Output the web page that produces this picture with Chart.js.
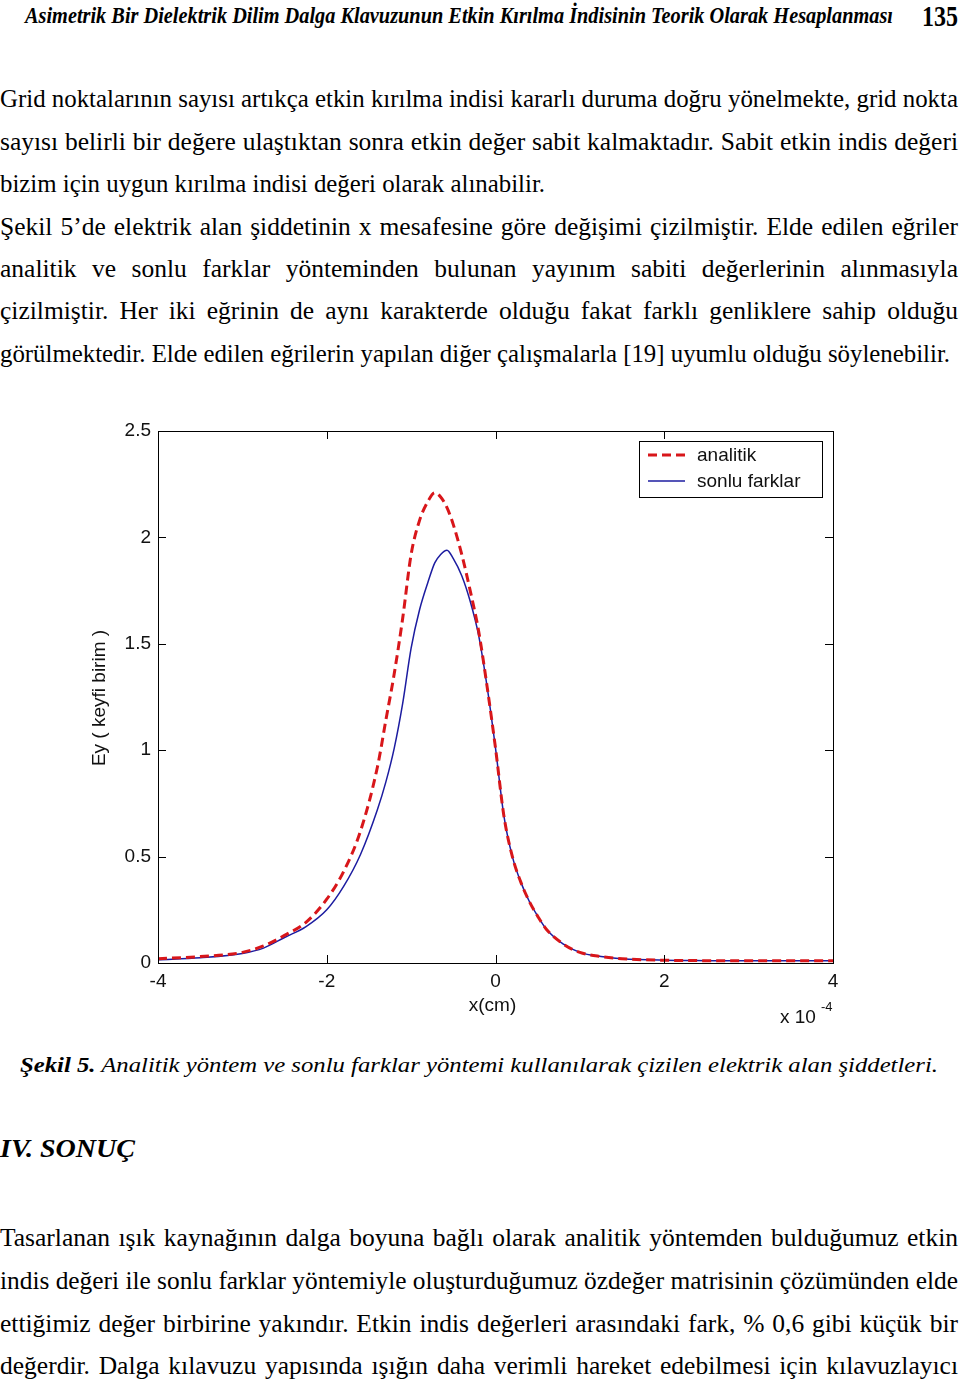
<!DOCTYPE html>
<html lang="tr">
<head>
<meta charset="utf-8">
<script src="https://cdn.jsdelivr.net/npm/chart.js@4.4.1/dist/chart.umd.min.js"></script>
<style>
  html, body { margin: 0; padding: 0; background: #fff; }
  body { width: 960px; height: 1384px; position: relative; overflow: hidden; font-family: "Liberation Serif", "Times New Roman", serif; color: #000; }
  .ln { position: absolute; left: 0; white-space: nowrap; }
  .ln > span { display: inline-block; transform-origin: 0 50%; }
  .body { font-size: 25.5px; line-height: 25px; }
  #chartBox { position: absolute; left: 0; top: 400px; width: 960px; height: 640px; }
</style>
</head>
<body>

<div class="ln" style="top:4px;font-size:23px;line-height:23px;font-style:italic;font-weight:bold;" data-x="25" data-w="893"><span>Asimetrik Bir Dielektrik Dilim Dalga Klavuzunun Etkin Kırılma İndisinin Teorik Olarak Hesaplanması</span></div>
<div class="ln" style="top:2px;font-size:29px;line-height:29px;font-weight:bold;" data-x="922" data-w="958"><span>135</span></div>

<div class="ln body j" style="top:86px" data-x="0" data-w="958"><span>Grid noktalarının sayısı artıkça etkin kırılma indisi kararlı duruma doğru yönelmekte, grid nokta</span></div>
<div class="ln body j" style="top:129px" data-x="0" data-w="958"><span>sayısı belirli bir değere ulaştıktan sonra etkin değer sabit kalmaktadır. Sabit etkin indis değeri</span></div>
<div class="ln body" style="top:171px" data-x="0" data-w="545"><span>bizim için uygun kırılma indisi değeri olarak alınabilir.</span></div>
<div class="ln body j" style="top:214px" data-x="0" data-w="958"><span>Şekil 5’de elektrik alan şiddetinin x mesafesine göre değişimi çizilmiştir. Elde edilen eğriler</span></div>
<div class="ln body j" style="top:256px" data-x="0" data-w="958"><span>analitik ve sonlu farklar yönteminden bulunan yayınım sabiti değerlerinin alınmasıyla</span></div>
<div class="ln body j" style="top:298px" data-x="0" data-w="958"><span>çizilmiştir. Her iki eğrinin de aynı karakterde olduğu fakat farklı genliklere sahip olduğu</span></div>
<div class="ln body" style="top:341px" data-x="0" data-w="950"><span>görülmektedir. Elde edilen eğrilerin yapılan diğer çalışmalarla [19] uyumlu olduğu söylenebilir.</span></div>

<div id="chartBox"><canvas id="fieldChart" width="960" height="640"></canvas></div>

<div class="ln" style="top:1054px;font-size:22px;line-height:22px;font-style:italic;" data-x="20" data-w="938"><span><b>Şekil 5.</b> Analitik yöntem ve sonlu farklar yöntemi kullanılarak çizilen elektrik alan şiddetleri.</span></div>
<div class="ln" style="top:1136px;font-size:26px;line-height:26px;font-style:italic;font-weight:bold;" data-x="0" data-w="135"><span>IV. SONUÇ</span></div>

<div class="ln body j" style="top:1225px" data-x="0" data-w="958"><span>Tasarlanan ışık kaynağının dalga boyuna bağlı olarak analitik yöntemden bulduğumuz etkin</span></div>
<div class="ln body j" style="top:1268px" data-x="0" data-w="958"><span>indis değeri ile sonlu farklar yöntemiyle oluşturduğumuz özdeğer matrisinin çözümünden elde</span></div>
<div class="ln body j" style="top:1311px" data-x="0" data-w="958"><span>ettiğimiz değer birbirine yakındır. Etkin indis değerleri arasındaki fark, % 0,6 gibi küçük bir</span></div>
<div class="ln body j" style="top:1353px" data-x="0" data-w="958"><span>değerdir. Dalga kılavuzu yapısında ışığın daha verimli hareket edebilmesi için kılavuzlayıcı</span></div>

<script>
// x in units of 1e-4 cm
const xPos = [-4, -3.5, -3, -2.75, -2.5, -2.25, -2, -1.8, -1.6, -1.4, -1.3, -1.2, -1.1, -1.0, -0.9, -0.8, -0.72, -0.65, -0.575, -0.5, -0.4, -0.3, -0.2, -0.1, 0, 0.1, 0.2, 0.3, 0.4, 0.5, 0.6, 0.8, 1.0, 1.25, 1.5, 2, 2.5, 3, 3.5, 4];
const analitik = [0.02, 0.03, 0.05, 0.08, 0.13, 0.19, 0.30, 0.43, 0.62, 0.92, 1.14, 1.36, 1.62, 1.92, 2.08, 2.17, 2.21, 2.19, 2.14, 2.06, 1.92, 1.75, 1.56, 1.30, 1.01, 0.69, 0.50, 0.38, 0.29, 0.22, 0.16, 0.09, 0.05, 0.03, 0.02, 0.013, 0.011, 0.01, 0.01, 0.01];
const sonluFarklar = [0.015, 0.025, 0.045, 0.07, 0.12, 0.17, 0.25, 0.36, 0.51, 0.72, 0.85, 1.01, 1.22, 1.48, 1.66, 1.79, 1.88, 1.92, 1.94, 1.90, 1.82, 1.70, 1.54, 1.30, 1.01, 0.69, 0.50, 0.38, 0.29, 0.22, 0.16, 0.09, 0.05, 0.03, 0.02, 0.013, 0.011, 0.01, 0.01, 0.01];
const xTicks = [-4, -2, 0, 2, 4];
const yTicks = [0, 0.5, 1, 1.5, 2, 2.5];
const seriesLabels = ['analitik', 'sonlu farklar'];

const RED = '#d8161a';
const BLUE = '#1c1ca0';
const SANS = '"Liberation Sans", Arial, sans-serif';

function fitLines() {
    document.querySelectorAll('.ln').forEach(el => {
        const span = el.firstElementChild;
        const x0 = +el.dataset.x;
        const target = +el.dataset.w - x0;
        el.style.left = x0 + 'px';
        const w = span.getBoundingClientRect().width;
        if (el.classList.contains('j') && w < target) {
            const spaces = (span.textContent.match(/ /g) || []).length;
            span.style.wordSpacing = ((target - w) / spaces) + 'px';
        } else {
            span.style.transform = 'scaleX(' + (target / w) + ')';
        }
    });
}

const framePlugin = {
    id: 'frame',
    afterDatasetsDraw(chart) {
        const { ctx, chartArea: a, scales } = chart;
        ctx.save();
        ctx.strokeStyle = '#000';
        ctx.lineWidth = 1;
        ctx.strokeRect(a.left + 0.5, a.top + 0.5, a.right - a.left, a.bottom - a.top);
        ctx.beginPath();
        const tl = 8;
        xTicks.forEach(v => {
            const px = Math.round(scales.x.getPixelForValue(v)) + 0.5;
            ctx.moveTo(px, a.bottom); ctx.lineTo(px, a.bottom - tl);
            ctx.moveTo(px, a.top); ctx.lineTo(px, a.top + tl);
        });
        yTicks.forEach(v => {
            const py = Math.round(scales.y.getPixelForValue(v)) + 0.5;
            ctx.moveTo(a.left, py); ctx.lineTo(a.left + tl, py);
            ctx.moveTo(a.right, py); ctx.lineTo(a.right - tl, py);
        });
        ctx.stroke();

        // legend box
        const lx = 639, ly = 41, lw = 183, lh = 56;
        ctx.fillStyle = '#fff';
        ctx.fillRect(lx, ly, lw, lh);
        ctx.strokeRect(lx + 0.5, ly + 0.5, lw, lh);
        chart.data.datasets.forEach((ds, i) => {
            const yy = ly + 14 + i * 26;
            ctx.beginPath();
            ctx.strokeStyle = ds.borderColor;
            ctx.lineWidth = ds.borderWidth;
            ctx.setLineDash(ds.borderDash || []);
            ctx.moveTo(lx + 9, yy);
            ctx.lineTo(lx + 46, yy);
            ctx.stroke();
            ctx.setLineDash([]);
            ctx.fillStyle = '#111';
            ctx.font = '19px ' + SANS;
            ctx.textBaseline = 'middle';
            ctx.textAlign = 'left';
            ctx.fillText(ds.label, lx + 58, yy + 1);
        });

        // axis titles
        ctx.fillStyle = '#111';
        ctx.font = '19px ' + SANS;
        ctx.textAlign = 'center';
        ctx.textBaseline = 'middle';
        ctx.fillText('x(cm)', (a.left + a.right) / 2 - 3, 606);
        ctx.save();
        ctx.translate(100, 298);
        ctx.rotate(-Math.PI / 2);
        ctx.fillText('Ey ( keyfi birim )', 0, 0);
        ctx.restore();
        ctx.textAlign = 'left';
        ctx.fillText('x 10', 780, 618);
        ctx.font = '13px ' + SANS;
        ctx.fillText('-4', 821, 607);
        ctx.restore();
    }
};

function buildChart() {
    const ctx = document.getElementById('fieldChart').getContext('2d');
    window.fieldChartInstance = new Chart(ctx, {
        type: 'scatter',
        data: {
            datasets: [
                {
                    label: seriesLabels[0],
                    data: xPos.map((x, i) => ({ x: x, y: analitik[i] })),
                    showLine: true,
                    borderColor: RED,
                    borderWidth: 3,
                    borderDash: [9, 5],
                    pointRadius: 0,
                    cubicInterpolationMode: 'monotone'
                },
                {
                    label: seriesLabels[1],
                    data: xPos.map((x, i) => ({ x: x, y: sonluFarklar[i] })),
                    showLine: true,
                    borderColor: BLUE,
                    borderWidth: 1.5,
                    pointRadius: 0,
                    cubicInterpolationMode: 'monotone'
                }
            ]
        },
        options: {
            responsive: false,
            devicePixelRatio: 1,
            animation: false,
            layout: { padding: { left: 0, right: 127, top: 31, bottom: 37 } },
            plugins: { legend: { display: false }, tooltip: { enabled: false } },
            scales: {
                x: {
                    type: 'linear', min: -4, max: 4,
                    grid: { display: false, drawTicks: false },
                    border: { display: false },
                    afterBuildTicks: s => { s.ticks = xTicks.map(v => ({ value: v })); },
                    afterFit: s => { s.height = 40; },
                    ticks: { padding: 7, color: '#111', font: { family: SANS, size: 19 }, maxRotation: 0, callback: v => String(v) }
                },
                y: {
                    type: 'linear', min: 0, max: 2.5,
                    grid: { display: false, drawTicks: false },
                    border: { display: false },
                    afterBuildTicks: s => { s.ticks = yTicks.map(v => ({ value: v })); },
                    afterFit: s => { s.width = 158; },
                    ticks: { padding: 7, color: '#111', font: { family: SANS, size: 19 }, callback: v => String(v) }
                }
            }
        },
        plugins: [framePlugin]
    });
}

document.fonts.ready.then(() => {
    fitLines();
    buildChart();
});
</script>
</body>
</html>
